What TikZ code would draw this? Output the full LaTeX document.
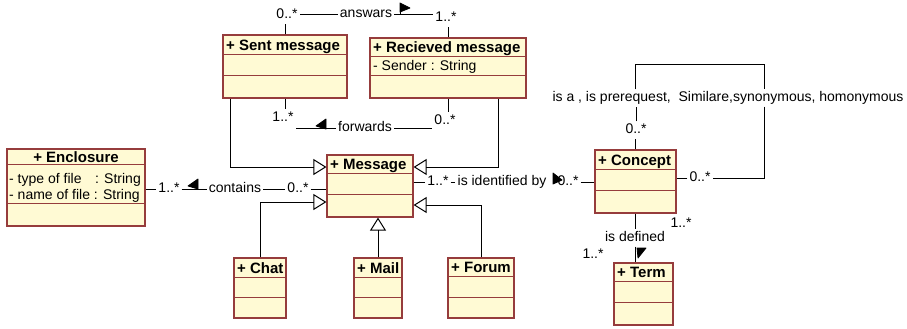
\documentclass[tikz,border=0pt]{standalone}
\usepackage{fontspec}
\setmainfont{Liberation Sans}
\usetikzlibrary{arrows.meta,calc}
\definecolor{boxfill}{RGB}{255,250,212}
\definecolor{boxline}{RGB}{150,60,60}
\newcommand\umlbox[7]{%
  \node[cls, minimum width=#4bp, minimum height=#5bp] (#1) at (#2,#3) {};
  \draw[sepline] ($(#1.north west)+(0,#6)$) -- ($(#1.north east)+(0,#6)$);
  \draw[sepline] ($(#1.north west)+(0,#7)$) -- ($(#1.north east)+(0,#7)$);
}
\begin{document}
\begin{tikzpicture}[x=1bp,y=-1bp,
  cls/.style={draw=boxline, fill=boxfill, line width=1.2bp, inner sep=0pt},
  sepline/.style={draw=boxline, line width=1.1bp},
  ttl/.style={font=\fontsize{15bp}{17bp}\selectfont\bfseries, inner sep=1bp, text height=11bp, text depth=3bp},
  attr/.style={font=\fontsize{14bp}{16bp}\selectfont, inner sep=1bp, text height=10bp, text depth=3bp},
  lbl/.style={font=\fontsize{14bp}{16bp}\selectfont, inner sep=2bp, text height=10bp, text depth=3bp},
  conn/.style={draw=black, line width=1bp},
  gen/.style={conn, -{Triangle[open, length=13bp, width=16bp, line width=1bp]}},
  flag/.style={fill=black, draw=black, line width=0.8bp, line join=round}
]
\useasboundingbox (0,0) rectangle (907,328);

% class boxes
\umlbox{sent}{285}{66.5}{124}{63}{20}{41}
\umlbox{recv}{448}{68}{156}{60}{19}{38}
\umlbox{encl}{76}{187.5}{138}{77}{16}{55}
\umlbox{msg}{370}{186}{86}{62}{19}{40}
\umlbox{concept}{635.5}{181.5}{81}{63}{20}{41}
\umlbox{term}{643.5}{294}{59}{62}{19}{40}
\umlbox{chat}{260}{288}{52}{60}{20}{40}
\umlbox{mail}{378}{288}{48}{60}{20}{40}
\umlbox{forum}{481}{288}{66}{60}{19}{40}

% titles
\node[ttl, anchor=west] (sentT) at (225,46) {+ Sent message};
\node[ttl, anchor=west] (recvT) at (372,48.5) {+ Recieved message};
\node[ttl] (enclT) at (76,158) {+ Enclosure};
\node[ttl, anchor=west] (msgT) at (329,165.5) {+ Message};
\node[ttl, anchor=west] (conceptT) at (597,161) {+ Concept};
\node[ttl, anchor=west] (termT) at (616,273.5) {+ Term};
\node[ttl, anchor=west] (chatT) at (236,269) {+ Chat};
\node[ttl, anchor=west] (mailT) at (356,269) {+ Mail};
\node[ttl, anchor=west] (forumT) at (450,268.5) {+ Forum};

% attributes
\node[attr, anchor=west] (recvA) at (372,67) {- Sender : String};
\node[attr, anchor=west] (enclA1) at (8,180) {- type of file};
\node[attr, anchor=east] (enclA1t) at (142,180) {: String};
\node[attr, anchor=west] (enclA2) at (8,196) {- name of file : String};

% generalizations
\draw[gen] ($(sent.south west)+(8,0)$) |- ($(msg.west)+(0,-19)$);
\draw[gen] ($(recv.south east)+(-28,0)$) |- ($(msg.east)+(0,-19)$);
\draw[gen] (chat.north) |- ($(msg.west)+(0,16)$);
\draw[gen] (forum.north) |- ($(msg.east)+(0,19)$);
\draw[gen] (mail.north) -- (mail.north |- msg.south);

% answars
\node[lbl] (m1) at (287,15) {0..*};
\node[lbl] (ans) at (366,14) {answars};
\node[lbl] (m2) at (446,18) {1..*};
\draw[conn] (sent.north) -- (sent.north |- m1.south);
\draw[conn] (recv.north) -- (recv.north |- m2.south);
\draw[conn] (ans.west) -- (ans.west -| m1.east);
\draw[conn] (ans.east) -- (ans.east -| m2.west);
\filldraw[flag] (400,3) -- (410,8) -- (400,12) -- cycle;
\draw[conn] (400,3) -- (400,14);

% forwards
\node[lbl] (f1) at (283,118) {1..*};
\node[lbl] (fw) at (365,128) {forwards};
\node[lbl] (f2) at (445,121) {0..*};
\draw[conn] (sent.south) -- (sent.south |- f1.north);
\draw[conn] (recv.south) -- (recv.south |- f2.north);
\draw[conn] (fw.west) -- (fw.west -| f1.east);
\draw[conn] (fw.east) -- (fw.east -| f2.west);
\filldraw[flag] (326,119) -- (326,129) -- (316,126) -- cycle;

% contains
\node[lbl] (c1) at (169,189) {1..*};
\node[lbl] (ct) at (235,189) {contains};
\node[lbl] (c2) at (298,189) {0..*};
\draw[conn] (c1.west -| encl.east) -- (c1.west);
\draw[conn] (c1.east) -- (ct.west);
\draw[conn] (ct.east) -- (c2.west);
\draw[conn] (c2.east) -- (c2.east -| msg.west);
\filldraw[flag] (198,179) -- (198,189) -- (188,186) -- cycle;

% is identified by
\node[lbl] (i1) at (438,182) {1..*};
\node[lbl] (it) at (502,182) {is identified by};
\node[lbl] (i2) at (568,182) {0..*};
\draw[conn] (i1.west -| msg.east) -- (i1.west);
\draw[conn] (i1.east) -- (it.west);
\draw[conn] (i2.east) -- (i2.east -| concept.west);
\filldraw[flag] (553,173) -- (553,184) -- (562,180) -- cycle;

% concept self association
\node[lbl] (sm1) at (636,130) {0..*};
\node[lbl] (sa) at (728,98) {is a , is prerequest,\ \ Similare,synonymous, homonymous};
\node[lbl] (sm2) at (700,178) {0..*};
\coordinate (tl) at (635.5,64);
\coordinate (tr) at (764,64);
\draw[conn] (concept.north) -- (concept.north |- sm1.south);
\draw[conn] (sm1.north) -- (sm1.north |- sa.south);
\draw[conn] (sa.north -| tl) -- (tl) -- (tr) -- (sa.north -| tr);
\draw[conn] (sa.south -| tr) -- (sm2.east -| tr) -- (sm2.east);
\draw[conn] (sm2.west) -- (sm2.west -| concept.east);

% is defined
\node[lbl] (idf) at (635,238) {is defined};
\node[lbl] (d1) at (681,224) {1..*};
\node[lbl] (d2) at (593,255) {1..*};
\draw[conn] (concept.south) -- (concept.south |- idf.north);
\draw[conn] (idf.south) -- (idf.south |- term.north);
\filldraw[flag] (637,248) -- (646,248) -- (638,258) -- cycle;
\end{tikzpicture}
\end{document}
